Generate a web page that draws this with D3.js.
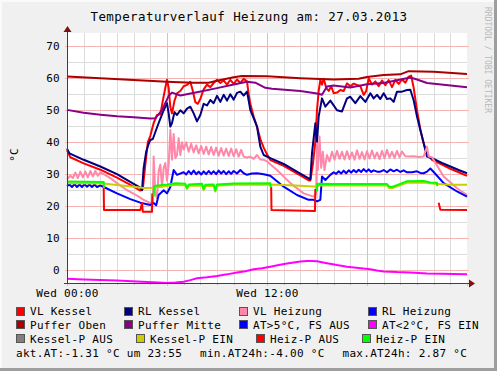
<!DOCTYPE html>
<html>
<head>
<meta charset="utf-8">
<script src="https://cdn.jsdelivr.net/npm/d3@7"></script>
<style>
  body { margin: 0; background: #f0f0f0; }
  svg { display: block; font-family: "DejaVu Sans Mono", monospace; }
  text { white-space: pre; }
</style>
</head>
<body>
<div id="chart"></div>
<script>
// time in hours since Wed 00:00, value in °C (null = no line)
const vlKessel = [[0,37.5],[0.2,35.3],[1,33.4],[2,31.4],[3,28.9],[4,26.1],[4.4,24.9],[4.55,25.4],[4.7,33],[4.85,40],[5.0,42],[5.2,46],[5.4,48.5],[5.6,48.7],[5.75,53],[5.9,57],[6.0,59.5],[6.1,57],[6.2,51],[6.3,49],[6.45,53],[6.6,55.3],[6.8,56],[7.0,57.5],[7.2,57.9],[7.4,58.9],[7.55,56],[7.7,52.5],[7.85,52],[8.0,53.5],[8.2,56.5],[8.4,58],[8.6,57.2],[8.8,58.5],[9.0,59.5],[9.2,58.5],[9.4,59.3],[9.6,58],[9.8,59.5],[10.0,58.2],[10.2,59.6],[10.4,58.5],[10.6,59.8],[10.8,59],[10.9,55],[11.0,52],[11.2,48],[11.4,44.9],[11.6,41],[11.8,38.3],[12.0,36.2],[12.2,34.4],[13,32.6],[14,29.6],[14.5,28.1],[14.6,28],[14.75,33],[14.9,40],[15.0,50],[15.1,56],[15.2,59.5],[15.3,58],[15.4,59.8],[15.55,57],[15.7,56],[15.85,57.5],[16.0,55.3],[16.2,55.5],[16.4,56.3],[16.6,56],[16.8,58.4],[17.0,57.5],[17.2,58.3],[17.4,57.9],[17.6,57.5],[17.8,54.8],[17.95,56],[18.1,59.9],[18.3,58],[18.5,59],[18.7,57.5],[18.9,59.3],[19.1,57.8],[19.3,59.4],[19.5,57.2],[19.7,59.5],[19.9,58.2],[20.1,59.6],[20.3,58.6],[20.5,60.5],[20.65,60.8],[20.8,57],[21.0,50],[21.2,44],[21.4,39.7],[21.6,36.2],[21.9,34.5],[22.5,33],[23,31.7],[23.5,30.6],[24,29.5]];
const rlKessel = [[0,38],[0.15,36.5],[1,34.5],[2,32.4],[3,30],[4,27],[4.4,25.8],[4.5,25],[4.6,32],[4.75,37],[4.9,39.5],[5.0,40.7],[5.15,41],[5.3,43.2],[5.5,46],[5.65,48],[5.8,50],[6.0,52.2],[6.1,49],[6.2,44.9],[6.3,46],[6.45,49.4],[6.6,48.5],[6.8,50],[7.0,49],[7.2,50.5],[7.4,51.1],[7.6,49],[7.8,46.5],[8.0,48.5],[8.2,52],[8.4,51.5],[8.6,53.2],[8.8,52.2],[9.0,54.5],[9.2,52.6],[9.4,54.8],[9.6,53],[9.8,55],[10.0,53.3],[10.2,55.4],[10.4,55.8],[10.6,54.6],[10.8,55.8],[10.9,53],[11.0,50],[11.2,47.5],[11.4,44.9],[11.6,38.6],[11.8,36],[12.2,35],[13,33.2],[14,30.2],[14.5,28.7],[14.6,28.4],[14.7,36.6],[14.9,45.9],[15.0,40],[15.1,48],[15.3,53.7],[15.5,51.1],[15.8,53],[16.0,51.5],[16.2,50],[16.5,49.6],[16.8,53.7],[17.0,54.2],[17.3,52.2],[17.6,54.4],[17.9,52.6],[18.2,55.3],[18.4,53.7],[18.6,54.8],[18.8,53.5],[19.0,55.3],[19.2,53.5],[19.4,53.7],[19.6,52.6],[19.8,55.8],[20.1,55.8],[20.4,56.3],[20.6,56.4],[20.8,53.1],[21.0,48],[21.2,43.8],[21.4,39.7],[21.6,35.5],[21.9,35],[22.5,33.5],[23,32.4],[23.5,31.3],[24,30.3]];
const vlHeizung = [[0,28.4],[0.2,29.5],[0.35,28.8],[0.5,30.5],[0.65,28.8],[0.8,30.8],[0.95,29],[1.1,30.8],[1.25,29],[1.4,31],[1.55,29.3],[1.7,31],[1.85,29.5],[2.0,30.6],[2.2,30],[2.6,28.8],[3.0,27.2],[3.6,25],[4.2,23.3],[4.6,22],[5.0,21],[5.15,21.5],[5.2,35.5],[5.3,24],[5.4,22.5],[5.5,31],[5.6,33],[5.7,26],[5.8,32],[5.9,33.5],[6.0,28],[6.1,33],[6.2,43.8],[6.3,34.5],[6.4,42.6],[6.5,35],[6.6,36],[6.7,41.2],[6.8,36],[6.9,40],[7.0,37.7],[7.15,40],[7.3,37],[7.45,39.5],[7.6,36.8],[7.75,39],[7.9,36.5],[8.05,38.8],[8.2,36.3],[8.35,38.6],[8.5,36.2],[8.65,38.5],[8.8,36],[8.95,38.3],[9.1,35.8],[9.25,38.2],[9.4,35.8],[9.55,38],[9.7,35.7],[9.85,38],[10.0,35.6],[10.15,37.8],[10.3,35.5],[10.45,37.6],[10.6,35.5],[10.8,35.2],[11.0,35.5],[11.2,34.8],[11.4,36],[11.6,34.6],[11.8,34.5],[12.0,34],[12.6,31.3],[13.4,27.2],[14.2,24],[14.8,23],[14.95,24],[15.0,39.7],[15.05,31.3],[15.15,41.8],[15.25,32],[15.35,37],[15.45,31.3],[15.6,36],[15.75,34],[15.9,37],[16.05,34.5],[16.2,37.3],[16.35,34.8],[16.5,37],[16.65,34.6],[16.8,37.2],[16.95,34.7],[17.1,36.8],[17.25,34.5],[17.4,37.5],[17.55,34.8],[17.7,36.9],[17.85,34.6],[18.0,37.2],[18.15,34.9],[18.3,37.4],[18.45,35],[18.6,36.8],[18.75,34.7],[18.9,37.3],[19.05,35],[19.2,37.6],[19.35,35.2],[19.5,37],[19.65,35.1],[19.8,37.3],[19.95,35.3],[20.1,37.1],[20.3,35.6],[20.5,35.5],[20.8,35.6],[21.1,35.4],[21.4,35.5],[21.6,38.6],[21.7,35.5],[21.9,35.3],[22.6,29.3],[23.4,25.6],[24,23.5]];
const rlHeizung = [[0,26.3],[0.15,26.8],[0.3,26],[0.45,26.9],[0.6,26],[0.75,26.8],[0.9,26],[1.05,26.9],[1.2,26.1],[1.35,26.8],[1.5,26],[1.65,26.8],[1.8,26],[2.0,26.5],[2.2,26],[3.0,24],[3.8,22.2],[4.4,21.1],[5.0,20.4],[5.2,21],[5.35,20.3],[5.5,23.5],[5.8,25],[6.0,24],[6.2,26],[6.4,31.3],[6.6,29.8],[7.0,30.6],[7.15,29.9],[7.3,31],[7.45,30],[7.6,31.1],[7.75,30],[7.9,30.8],[8.05,29.9],[8.2,30.9],[8.35,30],[8.5,31],[8.65,30.1],[8.8,30.9],[8.95,30],[9.1,31.1],[9.25,30.2],[9.4,31],[9.55,30],[9.7,30.9],[9.85,30.1],[10.0,31],[10.2,30.2],[10.4,31.3],[10.6,30.3],[10.8,29.8],[11.1,30.2],[11.4,30.3],[11.8,30],[12.2,29.5],[13,26.1],[13.8,23.5],[14.5,22],[14.8,22],[15.0,21.5],[15.2,22],[15.3,29.3],[15.5,28.2],[15.8,29.8],[16.0,30.6],[16.15,30.1],[16.3,30.9],[16.45,30.2],[16.6,31.1],[16.75,30.3],[16.9,31.2],[17.05,30.5],[17.2,31.3],[17.35,30.6],[17.5,31.4],[17.65,30.7],[17.8,31.6],[17.95,30.8],[18.1,31.5],[18.25,30.7],[18.4,31.2],[18.6,30.8],[18.8,30.8],[19.0,31.3],[19.2,30.6],[19.4,31.5],[19.6,30.9],[19.8,31.4],[20.0,30.7],[20.2,31.2],[20.4,30.6],[20.7,30.6],[21.0,30.9],[21.2,30.4],[21.4,30.3],[21.6,30.8],[21.8,31.8],[22.0,30.7],[22.6,27.2],[23.4,24.6],[24,23]];
const pufferOben = [[0,60.5],[2,60],[4,59.4],[6,58.9],[7.5,58.6],[8.5,58.6],[9,59.2],[10,60.3],[10.5,60.7],[12,60.6],[14,60],[16,59.6],[17.5,59.8],[18,60.4],[19,61],[20,61.2],[20.5,62.2],[22,62],[24,61.3]];
const pufferMitte = [[0,50.1],[1,49.2],[2,48.6],[3,48.1],[4,47.8],[5,47.4],[5.3,47.5],[5.7,50],[6.1,54.5],[6.3,55.5],[6.8,54.6],[7.8,55.6],[9,56.9],[10,58],[10.8,58.9],[11.3,58.6],[11.9,57],[12.3,56.7],[14,56],[15,55.2],[15.3,54.8],[15.6,57.4],[16,57.7],[17,57.1],[18,58.1],[19,58.5],[20.6,60.2],[21,59.6],[21.6,58.5],[24,57.2]];
const atWarm = [];
const atCold = [[0,-2.7],[1,-2.9],[2,-3.1],[3,-3.25],[3.6,-3.35],[4.5,-3.6],[5.5,-3.85],[6,-4],[6.5,-3.85],[7,-3.6],[7.4,-3.1],[7.8,-2.5],[8.4,-2.2],[9,-1.8],[9.6,-1.3],[10.2,-0.7],[10.7,-0.3],[11.2,0.3],[11.7,0.6],[12.2,1.1],[12.7,1.6],[13.2,2.1],[13.6,2.4],[14,2.7],[14.4,2.85],[14.7,2.87],[15.0,2.8],[15.3,2.5],[15.6,2.2],[16.2,1.6],[16.8,1.1],[17.5,0.7],[18.2,0.3],[18.6,-0.1],[19,-0.4],[19.8,-0.6],[20.6,-0.7],[21.6,-1.05],[22.5,-1.1],[23.2,-1.2],[24,-1.3]];
const kesselPAus = [];
const kesselPEin = [[0,27.2],[2.2,27.1],[3,26.6],[4,26.1],[4.6,25.7],[5.2,25.8],[6.0,26.3],[6.5,26.7],[7.1,26.5],[7.2,25.4],[7.3,26.4],[8.1,26.5],[8.2,25],[8.3,26.3],[8.8,26.4],[8.9,24.6],[9.0,26.4],[10,26.7],[12.2,26.8],[13,26.6],[14,26.4],[15,26.1],[15.1,26.5],[19.2,26.5],[19.35,25.6],[19.5,25.6],[19.8,26.2],[20.4,27.3],[21.4,27.4],[22.2,26.9],[23,26.7],[24,26.7]];
const heizPAus = [[2.2,26.1],[2.22,18.8],[4.4,18.8],[4.5,21],[4.55,18.3],[5.1,18.3],[5.12,24],[5.2,null],[12.25,26.1],[12.27,18.8],[14.88,18.5],[14.9,25.4],[15.0,null],[22.3,21.1],[22.4,18.9],[24,18.8]];
const heizPEin = [[0,27.7],[2.2,27.6],[2.22,25.6],[2.3,null],[5.2,23],[5.22,26.3],[6.0,26.8],[6.5,27.2],[7.1,27],[7.2,25.7],[7.3,26.8],[8.1,27],[8.2,25.4],[8.3,26.7],[8.8,26.8],[8.9,24.9],[9.0,26.8],[10,27.1],[12.2,27.2],[12.22,25.8],[12.3,null],[15.0,24.6],[15.02,27],[16,26.9],[19.2,26.9],[19.35,26],[19.5,26],[19.8,26.6],[20.4,27.8],[21.4,27.9],[21.8,27.4],[22.2,27.3],[22.22,26.3]];

const seriesNames = ["VL Kessel", "RL Kessel", "VL Heizung", "RL Heizung", "Puffer Oben", "Puffer Mitte",
  "AT>5°C, FS AUS", "AT<2°C, FS EIN", "Kessel-P AUS", "Kessel-P EIN", "Heiz-P AUS", "Heiz-P EIN"];
const seriesColors = ["#ff0000", "#000080", "#ff88aa", "#0000ff", "#aa0000", "#880088",
  "#0000ff", "#ff00ff", "#808080", "#cccc00", "#ff0000", "#00ff00"];
const seriesData = [vlKessel, rlKessel, vlHeizung, rlHeizung, pufferOben, pufferMitte,
  atWarm, atCold, kesselPAus, kesselPEin, heizPAus, heizPEin];

const yTicks = [0, 10, 20, 30, 40, 50, 60, 70];
const xTickHours = [0, 12];
const xTickLabels = ["Wed 00:00", "Wed 12:00"];
const titleText = "Temperaturverlauf Heizung am: 27.03.2013";
const footerTexts = ["akt.AT:-1.31 °C um 23:55", "min.AT24h:-4.00 °C", "max.AT24h: 2.87 °C"];

const W = 497, H = 371;
const plotL = 67, plotR = 467, plotT = 33, plotB = 283;

const svg = d3.select("#chart").append("svg")
    .attr("width", W)
    .attr("height", H);

// background + 3d frame
svg.append("rect").attr("width", W).attr("height", H).attr("fill", "#f0f0f0");
svg.append("rect").attr("x", 0).attr("y", 0).attr("width", W).attr("height", 2).attr("fill", "#fafafa");
svg.append("rect").attr("x", 0).attr("y", 0).attr("width", 2).attr("height", H).attr("fill", "#fafafa");
svg.append("rect").attr("x", W - 3).attr("y", 0).attr("width", 3).attr("height", H).attr("fill", "#9e9e9e");
svg.append("rect").attr("x", 0).attr("y", H - 3).attr("width", W).attr("height", 3).attr("fill", "#9e9e9e");

const x = d3.scaleLinear().domain([0, 24]).range([plotL, plotR]);
const y = d3.scaleLinear().domain([-4, 74.125]).range([plotB, plotT]);

svg.append("rect")
    .attr("x", plotL).attr("y", plotT)
    .attr("width", plotR - plotL).attr("height", plotB - plotT)
    .attr("fill", "white");

// grid
const grid = svg.append("g").attr("shape-rendering", "crispEdges");
const hours = d3.range(1, 24);
grid.selectAll(".vmin").data(hours.filter(h => h % 6 !== 0)).enter().append("line")
    .attr("x1", d => Math.round(x(d)) + 0.5).attr("x2", d => Math.round(x(d)) + 0.5)
    .attr("y1", plotT).attr("y2", plotB)
    .attr("stroke", "#dcdcdc");
const minorY = d3.range(0, 75, 5).filter(v => v % 10 !== 0);
grid.selectAll(".hmin").data(minorY).enter().append("line")
    .attr("x1", plotL).attr("x2", plotR)
    .attr("y1", d => Math.round(y(d)) + 0.5).attr("y2", d => Math.round(y(d)) + 0.5)
    .attr("stroke", "#dcdcdc");
grid.selectAll(".vmaj").data([6, 12, 18]).enter().append("line")
    .attr("x1", d => Math.round(x(d)) + 0.5).attr("x2", d => Math.round(x(d)) + 0.5)
    .attr("y1", plotT).attr("y2", plotB + 2)
    .attr("stroke", "#f5b4b4");
grid.selectAll(".hmaj").data(yTicks).enter().append("line")
    .attr("x1", plotL - 2).attr("x2", plotR + 2)
    .attr("y1", d => Math.round(y(d)) + 0.5).attr("y2", d => Math.round(y(d)) + 0.5)
    .attr("stroke", "#f5b4b4");

// data lines
const line = d3.line()
    .defined(d => d[1] !== null)
    .x(d => x(d[0]))
    .y(d => y(d[1]));

const plot = svg.append("g");
seriesData.forEach((data, i) => {
    if (!data.length) return;
    plot.append("path")
        .datum(data)
        .attr("fill", "none")
        .attr("stroke", seriesColors[i])
        .attr("stroke-width", 2)
        .attr("stroke-linejoin", "round")
        .attr("d", line);
});

// axes lines + arrows
const axes = svg.append("g").attr("shape-rendering", "crispEdges");
axes.append("line").attr("x1", plotL - 3).attr("x2", plotR + 4)
    .attr("y1", plotB + 0.5).attr("y2", plotB + 0.5).attr("stroke", "#404040");
axes.append("line").attr("x1", plotL + 0.5).attr("x2", plotL + 0.5)
    .attr("y1", plotT - 2).attr("y2", plotB + 3).attr("stroke", "#404040");
axes.selectAll(".xt").data(d3.range(0, 25)).enter().append("line")
    .attr("x1", d => Math.round(x(d)) + 0.5).attr("x2", d => Math.round(x(d)) + 0.5)
    .attr("y1", plotB + 1).attr("y2", d => d % 6 === 0 ? plotB + 3 : plotB + 2)
    .attr("stroke", d => d % 6 === 0 ? "#f5b4b4" : "#bbbbbb");
svg.append("path")
    .attr("d", `M${plotR + 2},${plotB - 3.5} L${plotR + 8},${plotB + 0.5} L${plotR + 2},${plotB + 4.5} Z`)
    .attr("fill", "#7f1010");
svg.append("path")
    .attr("d", `M${plotL - 3.5},${plotT - 1} L${plotL + 0.5},${plotT - 7} L${plotL + 4.5},${plotT - 1} Z`)
    .attr("fill", "#7f1010");

// tick labels
const yAxis = svg.append("g")
    .attr("transform", `translate(${plotL},0)`)
    .call(d3.axisLeft(y).tickValues(yTicks).tickSize(0).tickPadding(7));
const xAxis = svg.append("g")
    .attr("transform", `translate(0,${plotB})`)
    .call(d3.axisBottom(x).tickValues(xTickHours).tickSize(0).tickPadding(6)
        .tickFormat((d, i) => xTickLabels[i]));
[yAxis, xAxis].forEach(g => {
    g.select(".domain").remove();
    g.selectAll("text")
        .attr("fill", "#000")
        .style("font-family", "DejaVu Sans Mono")
        .style("font-size", "11px")
        .style("letter-spacing", "0.3px");
});

// title, y label, watermark
svg.append("text")
    .attr("x", 249).attr("y", 21)
    .attr("text-anchor", "middle")
    .style("font-size", "12.5px")
    .style("letter-spacing", "0.4px")
    .text(titleText);

svg.append("text")
    .attr("transform", "translate(17.5,155) rotate(-90)")
    .attr("text-anchor", "middle")
    .style("font-size", "11px")
    .text("°C");

svg.append("text")
    .attr("transform", "translate(484.5,7) rotate(90)")
    .style("font-size", "8px")
    .attr("fill", "#b8b8b8")
    .text("RRDTOOL / TOBI OETIKER");

// legend
const legendRowY = [311.5, 325.3, 339.2];
const legendBoxX = [[16.5, 124.5, 239.5, 368.5], [16.5, 124.5, 239.5, 368.5], [16.5, 136.5, 256.5, 362.5]];
const legend = svg.append("g");
seriesNames.forEach((name, i) => {
    const row = Math.floor(i / 4), col = i % 4;
    const bx = legendBoxX[row][col], cy = legendRowY[row];
    legend.append("rect")
        .attr("x", bx).attr("y", Math.round(cy) - 4.5)
        .attr("width", 8).attr("height", 8)
        .attr("fill", seriesColors[i])
        .attr("stroke", "#555")
        .attr("stroke-width", 1);
    legend.append("text")
        .attr("x", bx + 13.5).attr("y", cy)
        .attr("dy", "0.36em")
        .style("font-size", "11px")
        .style("letter-spacing", "0.3px")
        .text(name);
});

const footerX = [16, 200, 342.5];
footerTexts.forEach((t, i) => {
    legend.append("text")
        .attr("x", footerX[i]).attr("y", 353)
        .attr("dy", "0.36em")
        .style("font-size", "11px")
        .style("letter-spacing", "0.3px")
        .text(t);
});
</script>
</body>
</html>
